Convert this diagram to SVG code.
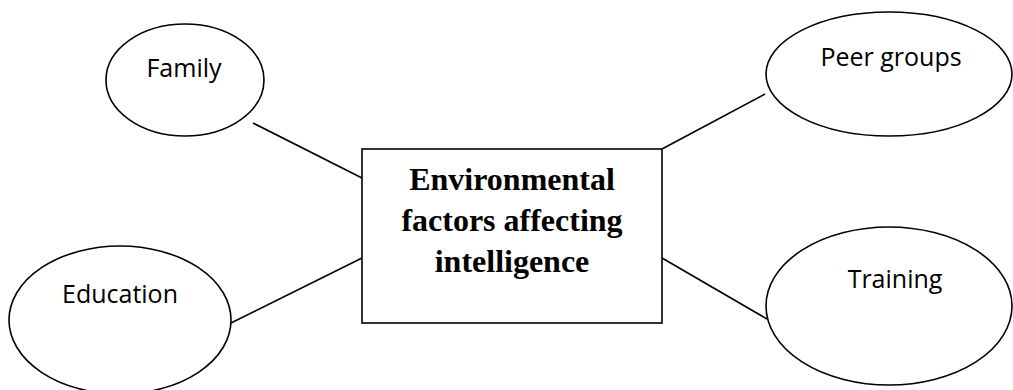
<svg xmlns="http://www.w3.org/2000/svg" width="1013" height="390" viewBox="0 0 1013 390">
<style>
.shape{fill:#fff;stroke:#000;stroke-width:1.6}
.conn line{stroke:#000;stroke-width:1.6}
.lbl{font-family:"Open Sans","Noto Sans",sans-serif;font-size:25px;fill:#000;text-anchor:middle}
.title{font-family:"Liberation Serif","Times New Roman",serif;font-size:32px;font-weight:bold;fill:#000;text-anchor:middle}
</style>
<rect width="1013" height="390" fill="#fff"/>
<g id="connectors" class="conn">
<line x1="253" y1="123" x2="362" y2="178"/>
<line x1="231" y1="323" x2="362" y2="258"/>
<line x1="765" y1="94" x2="662" y2="149"/>
<line x1="662" y1="258" x2="767" y2="319"/>
</g>
<g id="center">
<rect class="shape" x="362" y="149" width="300" height="174"/>
<text class="title" x="512" y="190">Environmental</text>
<text class="title" x="512" y="231">factors affecting</text>
<text class="title" x="512" y="272">intelligence</text>
</g>
<g id="family">
<ellipse class="shape" cx="185" cy="80" rx="79" ry="56"/>
<text class="lbl" x="184" y="77">Family</text>
</g>
<g id="education">
<ellipse class="shape" cx="120" cy="320" rx="111" ry="74"/>
<text class="lbl" x="120" y="303">Education</text>
</g>
<g id="peer-groups">
<ellipse class="shape" cx="889" cy="74" rx="123" ry="62"/>
<text class="lbl" x="891" y="66">Peer groups</text>
</g>
<g id="training">
<ellipse class="shape" cx="889" cy="306" rx="123" ry="79"/>
<text class="lbl" x="895" y="288">Training</text>
</g>
</svg>
